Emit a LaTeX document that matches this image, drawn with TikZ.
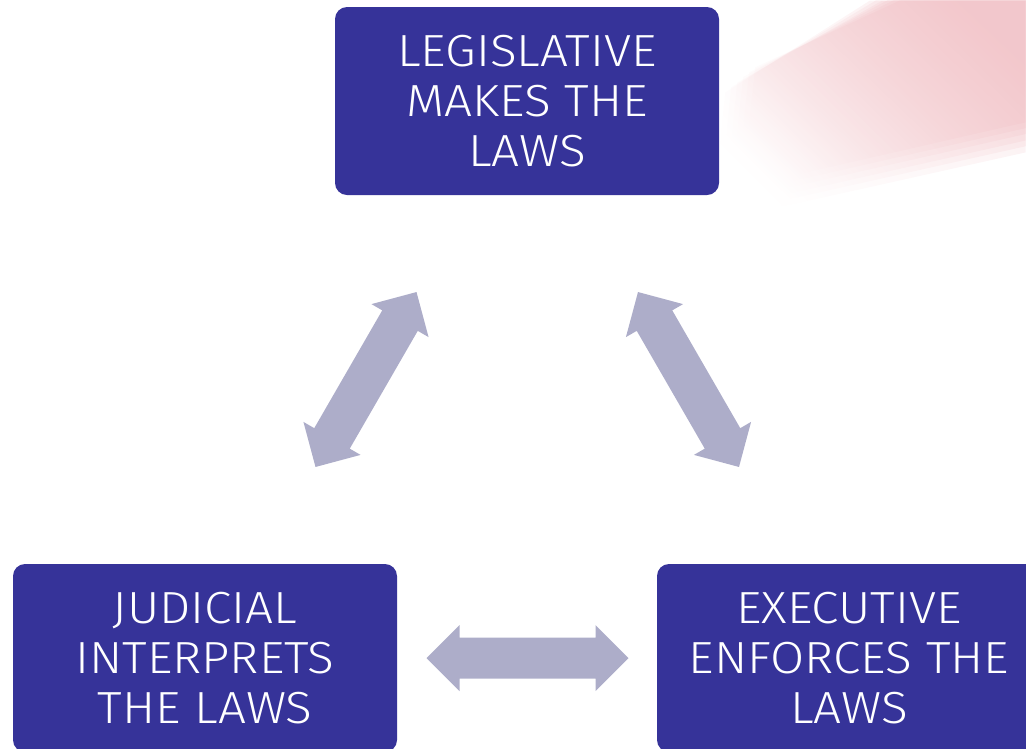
\documentclass[tikz,border=0pt]{standalone}
\usepackage{fontspec}
\setmainfont{Fira Sans}[UprightFont={* Light}, FakeStretch=1.1]
\usetikzlibrary{fadings}
\definecolor{boxblue}{RGB}{54,51,153}
\definecolor{arrowgrey}{RGB}{173,173,201}
\definecolor{bandpink}{RGB}{238,180,186}
\tikzset{
  branch/.style={fill=boxblue, text=white, rounded corners=12pt,
    minimum width=384pt, minimum height=188pt, align=center,
    font=\fontsize{45}{50}\selectfont, inner sep=0pt},
  dblarrow/.style={fill=arrowgrey, draw=none},
  band/.style={fill=bandpink, path fading=bandfade, fading angle=35, opacity=0.2},
}
\tikzfading[name=bandfade, left color=transparent!100, right color=transparent!0]
\begin{document}
\begin{tikzpicture}[x=1pt,y=-1pt]
\useasboundingbox (0,0) rectangle (1026,748);
\clip (0,0) rectangle (1026,748);
% pink band (soft edges by stacking)
\foreach \k in {0,1,2,3,4,5}{
  \fill[band]
    ({725+6*\k},{92-5*\k}) -- ({870+6*\k},0) -- (1026,0) -- (1026,{152-6*\k})
    -- ({712+6*\k},{222-7*\k}) -- cycle;
}
% boxes
\node[branch] (leg) at (527,101) {LEGISLATIVE\\MAKES THE\\LAWS};
\node[branch] (jud) at (205,658) {JUDICIAL\\INTERPRETS\\THE LAWS};
\node[branch] (exe) at (849,658) {EXECUTIVE\\ENFORCES THE\\LAWS};
% arrows
\coordinate (aL) at (366,379.5);
\coordinate (aR) at (688.5,379.5);
\coordinate (aB) at (527.5,658);
\foreach \c/\r in {aL/60, aR/-60, aB/0}{
  \begin{scope}[shift={(\c)}, rotate=\r]
    \fill[dblarrow] (-101,0) -- (-68,33) -- (-68,20.5) -- (68,20.5) -- (68,33)
      -- (101,0) -- (68,-33) -- (68,-20.5) -- (-68,-20.5) -- (-68,-33) -- cycle;
  \end{scope}
}
\end{tikzpicture}
\end{document}
